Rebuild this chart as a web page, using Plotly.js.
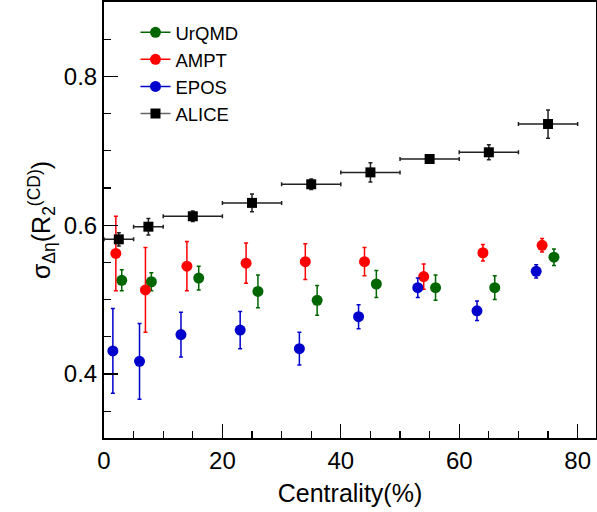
<!DOCTYPE html>
<html>
<head>
<meta charset="utf-8">
<script src="https://cdn.plot.ly/plotly-3.0.1.min.js"></script>
<style>html,body{margin:0;padding:0;background:#fff;}#chart{width:597px;height:512px;}</style>
</head>
<body>
<div id="chart"></div>
<script>
// ---- data ----
var seriesNames = ["UrQMD", "AMPT", "EPOS", "ALICE"];

var urqmdX = [3, 8, 16, 26, 36, 46, 56, 66, 76];
var urqmdY = [0.526, 0.524, 0.529, 0.511, 0.499, 0.521, 0.516, 0.516, 0.557];
var urqmdErr = [0.014, 0.012, 0.016, 0.022, 0.020, 0.018, 0.017, 0.016, 0.011];

var amptX = [2, 7, 14, 24, 34, 44, 54, 64, 74];
var amptY = [0.562, 0.513, 0.545, 0.549, 0.551, 0.551, 0.531, 0.563, 0.573];
var amptErr = [0.050, 0.057, 0.033, 0.027, 0.024, 0.019, 0.017, 0.011, 0.009];

var eposX = [1.5, 6, 13, 23, 33, 43, 53, 63, 73];
var eposY = [0.431, 0.417, 0.453, 0.459, 0.434, 0.477, 0.516, 0.485, 0.538];
var eposErr = [0.057, 0.051, 0.030, 0.025, 0.022, 0.016, 0.013, 0.013, 0.009];

var aliceX = [2.5, 7.5, 15, 25, 35, 45, 55, 65, 75];
var aliceXErr = [2.5, 2.5, 5, 5, 5, 5, 5, 5, 5];
var aliceY = [0.581, 0.598, 0.612, 0.630, 0.655, 0.671, 0.689, 0.698, 0.736];
var aliceYErr = [0.009, 0.011, 0.007, 0.012, 0.007, 0.013, 0.005, 0.010, 0.019];

var xTickVals = [0, 20, 40, 60, 80];
var yTickVals = [0.4, 0.6, 0.8];

// ---- styling ----
var cGreen = '#006600', cRed = '#ff0000', cBlue = '#0000cc', cBlack = '#000000';

function modelTrace(x, y, err, color) {
  return {
    x: x, y: y, type: 'scatter', mode: 'markers', showlegend: false,
    marker: {color: color, size: 11, symbol: 'circle', line: {width: 0}},
    error_y: {type: 'data', array: err, visible: true, color: color, thickness: 1.5, width: 2}
  };
}
function legendTrace(name, color, lineColor, symbol, size) {
  return {
    x: [null], y: [null], type: 'scatter', mode: 'lines+markers', name: name,
    line: {color: lineColor, width: 1.5},
    marker: {color: color, size: size, symbol: symbol, line: {width: 0}}
  };
}

var traces = [
  modelTrace(urqmdX, urqmdY, urqmdErr, cGreen),
  modelTrace(amptX, amptY, amptErr, cRed),
  modelTrace(eposX, eposY, eposErr, cBlue),
  {
    x: aliceX, y: aliceY, type: 'scatter', mode: 'markers', showlegend: false,
    marker: {color: cBlack, size: 10, symbol: 'square', line: {width: 0}},
    error_y: {type: 'data', array: aliceYErr, visible: true, color: '#222', thickness: 1.5, width: 2},
    error_x: {type: 'data', array: aliceXErr, visible: true, color: '#222', thickness: 1.5, width: 2}
  },
  legendTrace(seriesNames[0], cGreen, cGreen, 'circle', 11),
  legendTrace(seriesNames[1], cRed, cRed, 'circle', 11),
  legendTrace(seriesNames[2], cBlue, cBlue, 'circle', 11),
  legendTrace(seriesNames[3], cBlack, '#666', 'square', 10)
];

var font = 'Liberation Sans, Arial, Helvetica, sans-serif';

var layout = {
  width: 597, height: 512,
  margin: {l: 104, r: 1, t: 2, b: 74, pad: 0},
  paper_bgcolor: '#fff', plot_bgcolor: '#fff',
  font: {family: font, color: '#000', size: 24},
  showlegend: true,
  legend: {
    x: 0.064, y: 0.973, xanchor: 'left', yanchor: 'top',
    bgcolor: 'rgba(0,0,0,0)', borderwidth: 0,
    font: {family: font, size: 18.5, color: '#000'},
    traceorder: 'normal'
  },
  xaxis: {
    range: [0, 83.1], tickvals: xTickVals, ticktext: xTickVals.map(String),
    ticks: 'inside', ticklen: 14, tickwidth: 1.2, tickcolor: '#000',
    minor: {dtick: 5, ticks: 'inside', ticklen: 7, tickwidth: 1.2, tickcolor: '#000', showgrid: false},
    showgrid: false, zeroline: false,
    showline: true, linecolor: '#000', linewidth: 2, mirror: true,
    tickfont: {family: font, size: 24},
    title: {text: 'Centrality(%)', font: {family: font, size: 25}, standoff: 12}
  },
  yaxis: {
    range: [0.314, 0.9], tickvals: yTickVals, ticktext: ['0.4', '0.6', '0.8'],
    ticks: 'inside', ticklen: 14, tickwidth: 1.2, tickcolor: '#000',
    minor: {dtick: 0.05, ticks: 'inside', ticklen: 7, tickwidth: 1.2, tickcolor: '#000', showgrid: false},
    showgrid: false, zeroline: false,
    showline: true, linecolor: '#000', linewidth: 2, mirror: true,
    tickfont: {family: font, size: 24},
    title: {text: 'σ<sub>Δη</sub>(R<sub>2</sub><sup>(CD)</sup>)', font: {family: font, size: 25}, standoff: 6}
  }
};

Plotly.newPlot('chart', traces, layout, {displayModeBar: false, staticPlot: true});
</script>
</body>
</html>
